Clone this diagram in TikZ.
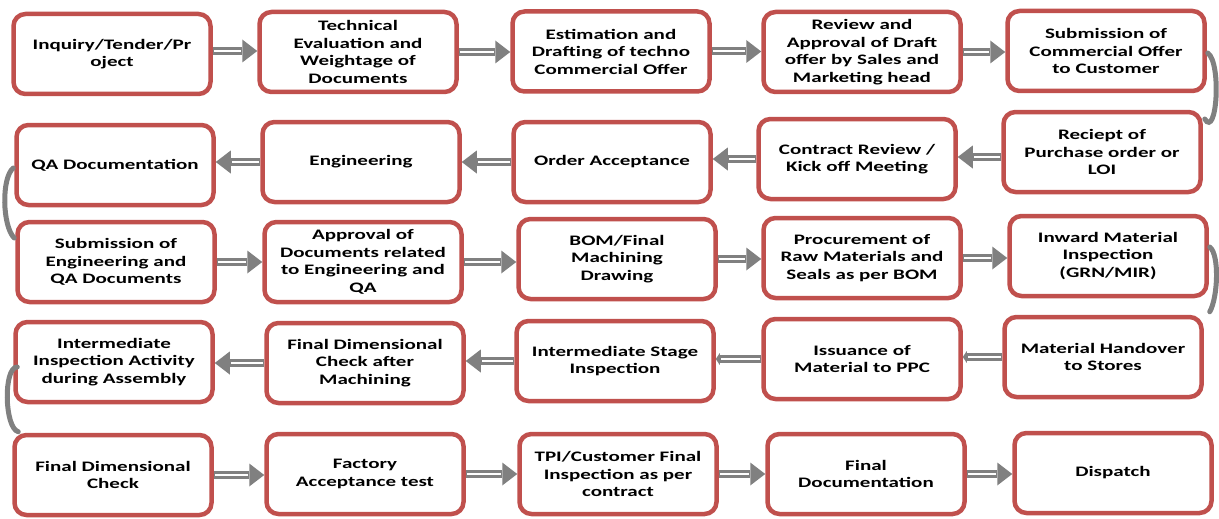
\documentclass[tikz,border=0pt]{standalone}
\usepackage{fontspec}
\setmainfont[FakeStretch=1.45]{Carlito}
\usetikzlibrary{arrows.meta,calc,backgrounds}
\definecolor{boxred}{HTML}{C0504D}
\definecolor{arrgray}{HTML}{808080}
\tikzset{
  box/.style={draw=boxred, line width=4.5pt, rounded corners=12pt, fill=white,
    minimum width=197pt, minimum height=80pt, align=center, inner sep=2pt,
    font=\bfseries\fontsize{14.5}{17.5}\selectfont, text=black},
  barrow/.style={draw=arrgray, line width=8pt,
    -{Triangle[length=15pt,width=23pt,line width=0pt]},
    postaction={draw=white, line width=2pt, shorten >=16pt, shorten <=1pt, -}},
  sarrow/.style={draw=arrgray, line width=8pt,
    -{Triangle[length=4pt,width=12pt,line width=0pt]},
    postaction={draw=white, line width=2pt, shorten >=5pt, shorten <=1pt, -}},
  curve/.style={draw=arrgray, line width=5pt, line cap=round}
}
\begin{document}
\begin{tikzpicture}[x=1pt,y=-1pt]
\useasboundingbox (0,0) rectangle (1219,519);
% row 1
\node[box] (A1) at (112,54) {Inquiry/Tender/Pr\\oject};
\node[box] (A2) at (358,52) {Technical\\Evaluation and\\Weightage of\\Documents};
\node[box] (A3) at (611,51.5) {Estimation and\\Drafting of techno\\Commercial Offer};
\node[box] (A4) at (862,52) {Review and\\Approval of Draft\\offer by Sales and\\Marketing head};
\node[box] (A5) at (1106,51) {Submission of\\Commercial Offer\\to Customer};
% row 2
\node[box] (B1) at (115,165) {QA Documentation};
\node[box] (B2) at (361,162) {Engineering};
\node[box] (B3) at (612,162) {Order Acceptance};
\node[box] (B4) at (857,159) {Contract Review /\\Kick off Meeting};
\node[box] (B5) at (1102,152) {Reciept of\\Purchase order or\\LOI};
% row 3
\node[box] (C1) at (116,262) {Submission of\\Engineering and\\QA Documents};
\node[box] (C2) at (363,262) {Approval of\\Documents related\\to Engineering and\\QA};
\node[box] (C3) at (617,259) {BOM/Final\\Machining\\Drawing};
\node[box] (C4) at (862,258) {Procurement of\\Raw Materials and\\Seals as per BOM};
\node[box] (C5) at (1108,256) {Inward Material\\Inspection\\(GRN/MIR)};
% row 4
\node[box] (D1) at (114,362) {Intermediate\\Inspection Activity\\during Assembly};
\node[box] (D2) at (365,363) {Final Dimensional\\Check after\\Machining};
\node[box] (D3) at (615,361) {Intermediate Stage\\Inspection};
\node[box] (D4) at (862,359) {Issuance of\\Material to PPC};
\node[box] (D5) at (1103,357) {Material Handover\\to Stores};
% row 5
\node[box] (E1) at (113,475) {Final Dimensional\\Check};
\node[box] (E2) at (365,474) {Factory\\Acceptance test};
\node[box] (E3) at (618,474) {TPI/Customer Final\\Inspection as per\\contract};
\node[box] (E4) at (866,474) {Final\\Documentation};
\node[box] (E5) at (1113,473) {Dispatch};

\begin{pgfonlayer}{background}
% row 1 arrows
\draw[barrow] ($(A1.east)+(0,-3)$) -- ($(A2.west |- A1.east)+(0,-3)$);
\draw[barrow] (A2.east) -- (A3.west |- A2.east);
\draw[barrow] (A3.east) -- (A4.west |- A3.east);
\draw[barrow] (A4.east) -- (A5.west |- A4.east);
% row 2 arrows
\draw[barrow] ($(B5.west)+(0,5)$) -- ($(B4.east |- B5.west)+(0,5)$);
\draw[barrow] (B4.west) -- (B3.east |- B4.west);
\draw[barrow] (B3.west) -- (B2.east |- B3.west);
\draw[barrow] (B2.west) -- (B1.east |- B2.west);
% row 3 arrows
\draw[barrow] (C1.east) -- (C2.west |- C1.east);
\draw[barrow] (C2.east) -- (C3.west |- C2.east);
\draw[barrow] (C3.east) -- (C4.west |- C3.east);
\draw[barrow] (C4.east) -- (C5.west |- C4.east);
% row 4 arrows
\draw[sarrow] (D5.west) -- (D4.east |- D5.west);
\draw[sarrow] (D4.west) -- (D3.east |- D4.west);
\draw[barrow] (D3.west) -- (D2.east |- D3.west);
\draw[barrow] (D2.west) -- (D1.east |- D2.west);
% row 5 arrows
\draw[barrow] (E1.east) -- (E2.west |- E1.east);
\draw[barrow] (E2.east) -- (E3.west |- E2.east);
\draw[barrow] (E3.east) -- (E4.west |- E3.east);
\draw[barrow] (E4.east) -- (E5.west |- E4.east);
\end{pgfonlayer}

% row connectors
\draw[curve] ($(A5.east)+(1,2)$) .. controls +(14,10) and +(12,20) .. ($(B5.east)+(2,-33)$);
\draw[curve] ($(B1.west)+(-1,3)$) .. controls +(-12,10) and +(-12,-12) .. ($(C1.west)+(-1,-24)$);
\draw[curve] ($(C5.east)+(1,-9)$) .. controls +(10,8) and +(8,-14) .. ($(D5.north east)+(6,-3)$);
\draw[curve] ($(D1.west)+(4,5)$) .. controls +(-14,0) and +(-14,-4) .. ($(E1.north west)+(6,-1)$);
\end{tikzpicture}
\end{document}
